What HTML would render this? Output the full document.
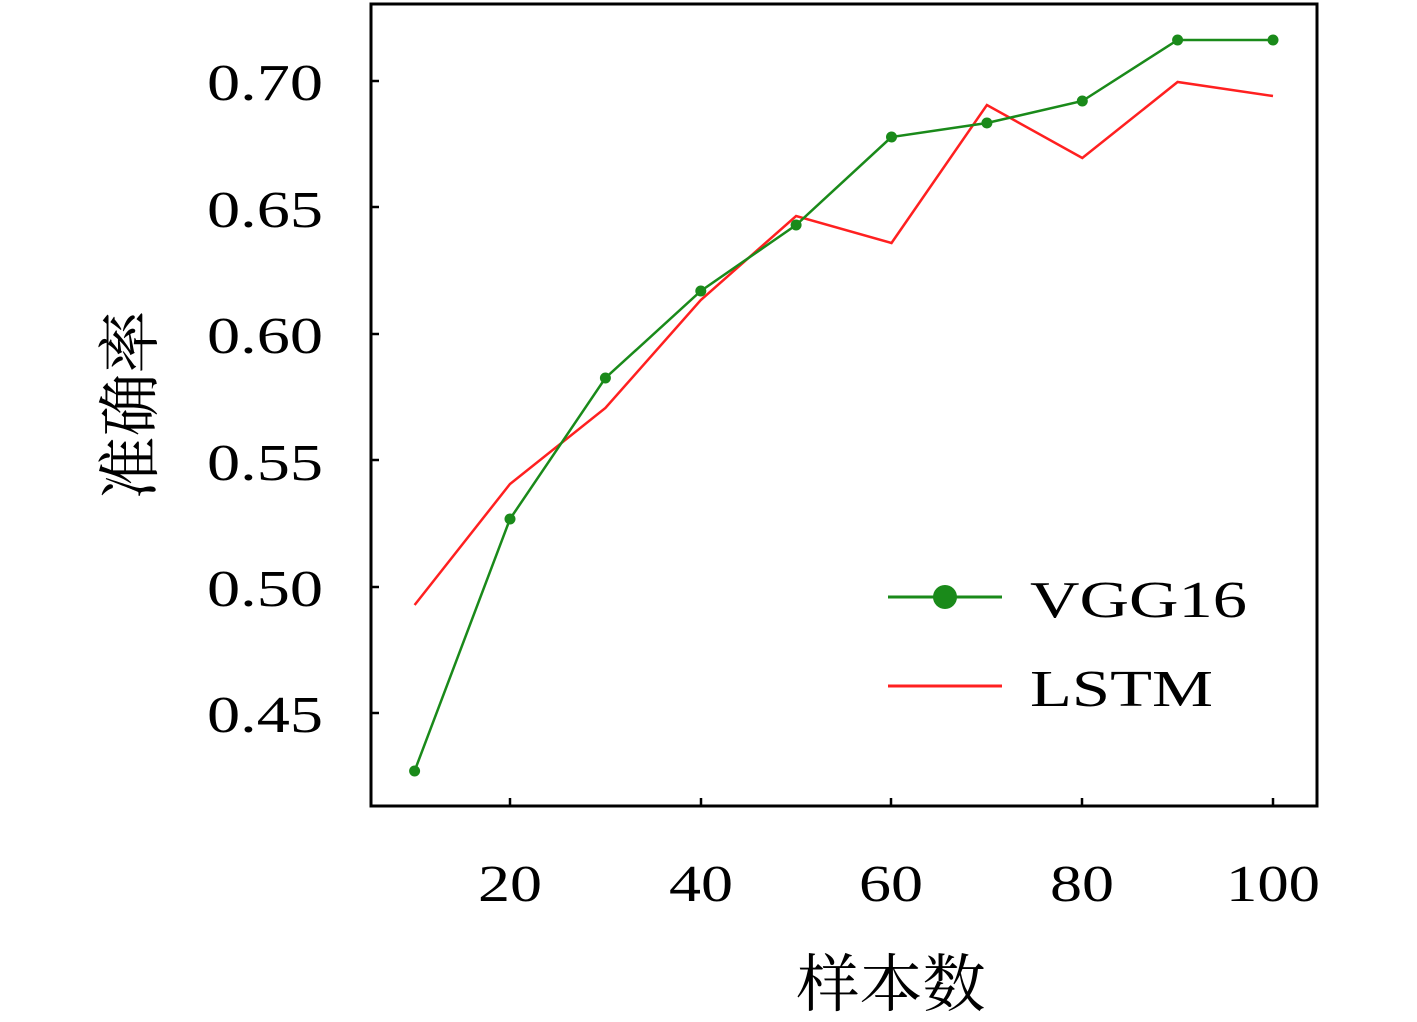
<!DOCTYPE html>
<html><head><meta charset="utf-8"><style>body{margin:0;background:#fff}</style></head><body>
<svg width="1417" height="1017" xmlns="http://www.w3.org/2000/svg">
<rect width="1417" height="1017" fill="#fff"/>
<g font-family="Liberation Serif, serif" font-size="52" fill="#000" lengthAdjust="spacingAndGlyphs">
<text x="207" y="100" textLength="116" lengthAdjust="spacingAndGlyphs">0.70</text>
<text x="207" y="227" textLength="116" lengthAdjust="spacingAndGlyphs">0.65</text>
<text x="207" y="353" textLength="116" lengthAdjust="spacingAndGlyphs">0.60</text>
<text x="207" y="480" textLength="116" lengthAdjust="spacingAndGlyphs">0.55</text>
<text x="207" y="606" textLength="116" lengthAdjust="spacingAndGlyphs">0.50</text>
<text x="207" y="732" textLength="116" lengthAdjust="spacingAndGlyphs">0.45</text>
<text x="478" y="901" textLength="64" lengthAdjust="spacingAndGlyphs">20</text>
<text x="669" y="901" textLength="64" lengthAdjust="spacingAndGlyphs">40</text>
<text x="859" y="901" textLength="64" lengthAdjust="spacingAndGlyphs">60</text>
<text x="1050" y="901" textLength="64" lengthAdjust="spacingAndGlyphs">80</text>
<text x="1226" y="901" textLength="94" lengthAdjust="spacingAndGlyphs">100</text>
<text x="1030" y="617" textLength="217" lengthAdjust="spacingAndGlyphs">VGG16</text>
<text x="1030" y="706" textLength="183" lengthAdjust="spacingAndGlyphs">LSTM</text>
</g>
<g font-family="Noto Serif CJK SC, Noto Sans CJK SC, serif" font-size="63" fill="#000" text-anchor="middle">
<text x="891" y="1006">样本数</text>
<text transform="translate(152,405) rotate(-90)">准确率</text>
</g>
<g stroke="#000" stroke-width="2.5">
<line x1="371" y1="81" x2="379" y2="81"/><line x1="371" y1="207" x2="379" y2="207"/>
<line x1="371" y1="334" x2="379" y2="334"/><line x1="371" y1="460" x2="379" y2="460"/>
<line x1="371" y1="587" x2="379" y2="587"/><line x1="371" y1="713" x2="379" y2="713"/>
<line x1="510" y1="806" x2="510" y2="798"/><line x1="701" y1="806" x2="701" y2="798"/>
<line x1="891" y1="806" x2="891" y2="798"/><line x1="1082" y1="806" x2="1082" y2="798"/>
<line x1="1273" y1="806" x2="1273" y2="798"/>
</g>
<polyline fill="none" stroke="#ff2020" stroke-width="2.5" points="414.6,605 510,484 605.4,408 700.8,300 796.1,216 891.5,243 986.9,105 1082.3,158 1177.6,82 1273,96"/>
<polyline fill="none" stroke="#1a8a1a" stroke-width="2.5" points="414.6,771 510,519 605.4,378 700.8,291 796.1,225 891.5,137 986.9,123 1082.3,101 1177.6,40 1273,40"/>
<g fill="#1a8a1a">
<circle cx="414.6" cy="771" r="5.5"/><circle cx="510" cy="519" r="5.5"/><circle cx="605.4" cy="378" r="5.5"/>
<circle cx="700.8" cy="291" r="5.5"/><circle cx="796.1" cy="225" r="5.5"/><circle cx="891.5" cy="137" r="5.5"/>
<circle cx="986.9" cy="123" r="5.5"/><circle cx="1082.3" cy="101" r="5.5"/><circle cx="1177.6" cy="40" r="5.5"/>
<circle cx="1273" cy="40" r="5.5"/>
</g>
<line x1="888" y1="597" x2="1002" y2="597" stroke="#1a8a1a" stroke-width="3"/>
<circle cx="945" cy="597" r="12" fill="#1a8a1a"/>
<line x1="888" y1="686" x2="1002" y2="686" stroke="#ff2020" stroke-width="3"/>
<rect x="371" y="4" width="946" height="802" fill="none" stroke="#000" stroke-width="3"/>
</svg>
</body></html>
